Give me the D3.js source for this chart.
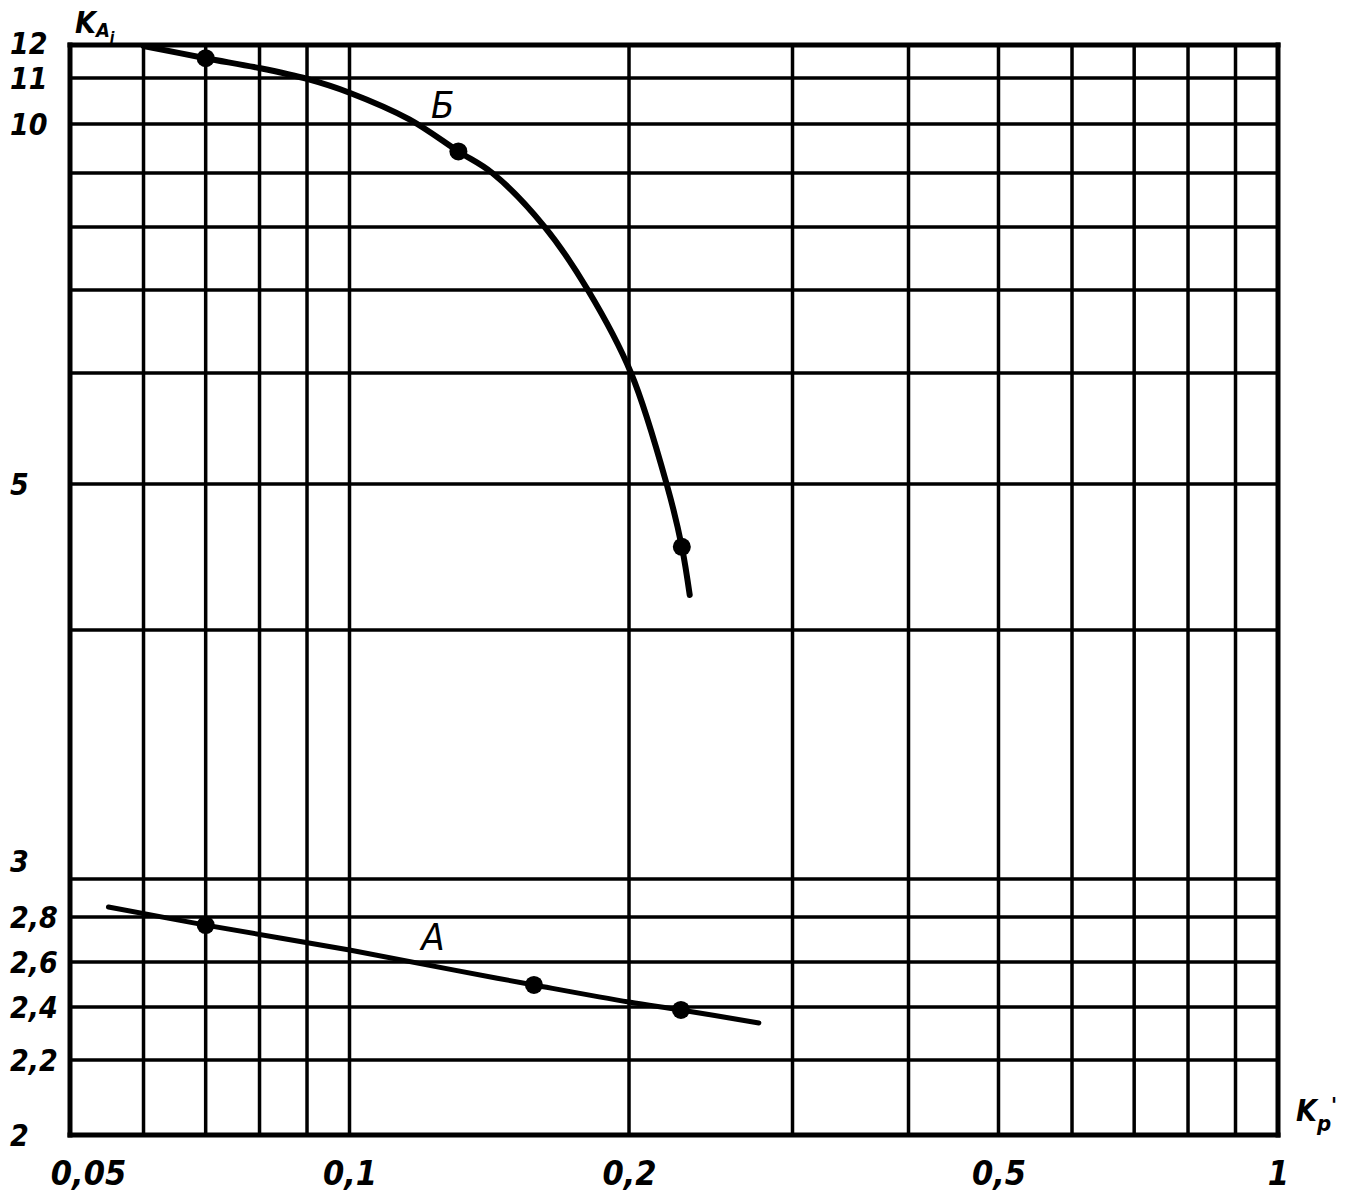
<!DOCTYPE html>
<html><head><meta charset="utf-8">
<script src="https://cdn.jsdelivr.net/npm/d3@7"></script>
<style>
body{margin:0;background:#fff;}
svg text{font-family:"DejaVu Sans Condensed","Liberation Sans Narrow","DejaVu Sans",sans-serif;font-style:italic;fill:#000;}
</style></head><body>
<svg id="c" width="1353" height="1199"></svg>
<script>
// ---- data ----
const xGrid = [0.05,0.06,0.07,0.08,0.09,0.1,0.2,0.3,0.4,0.5,0.6,0.7,0.8,0.9,1];
const xTickValues = [0.05,0.1,0.2,0.5,1];
const xTickLabels = ["0,05","0,1","0,2","0,5","1"];
const yGrid = [2,2.2,2.4,2.6,2.8,3,4,5,6,7,8,9,10,11,12];
const yTickValues = [2,2.2,2.4,2.6,2.8,3,5,10,11,12];
const yTickLabels = ["2","2,2","2,4","2,6","2,8","3","5","10","11","12"];
// non-uniform (nomographic) y axis: share of the axis height at each grid value
const yAxisShare = [0,0.0688,0.1174,0.1587,0.2,0.2349,0.4633,0.5972,0.6991,0.7752,0.833,0.8826,0.9275,0.9697,1];

const curveB = [[0.06,11.97],[0.07,11.6],[0.08,11.3],[0.09,10.98],[0.1,10.68],[0.116,10.1],
  [0.131,9.44],[0.1425,9.0],[0.1623,8.0],[0.1806,7.0],
  [0.201,6.0],[0.22,4.98],[0.228,4.57],[0.2325,4.24]];
const pointsB = [[0.07,11.6],[0.131,9.44],[0.228,4.57]];
const curveA = [[0.055,2.853],[0.07,2.764],[0.1,2.653],[0.1297,2.564],[0.158,2.498],
  [0.2,2.422],[0.2275,2.389],[0.276,2.34]];
const pointsA = [[0.07,2.764],[0.158,2.498],[0.2275,2.389]];
const seriesNames = ["Б","А"];
const seriesLabelAt = [[0.126,10.42],[0.123,2.71]];

// ---- layout ----
const W = 1353, H = 1199;
const m = {left:70, top:45, right:75, bottom:64};
const iw = W - m.left - m.right, ih = H - m.top - m.bottom;
const svg = d3.select("#c");

const x = d3.scaleLog().domain([0.05,1]).range([m.left, m.left+iw]);
const y = d3.scaleLinear().domain(yGrid).range(yAxisShare.map(s => m.top + ih*(1-s)));

// grid
const g = svg.append("g").attr("stroke","#000").attr("stroke-linecap","square");
g.selectAll("line.v").data(xGrid).join("line").attr("class","v")
  .attr("x1",d=>x(d)).attr("x2",d=>x(d)).attr("y1",m.top).attr("y2",m.top+ih)
  .attr("stroke-width",(d,i)=> (i===0||i===xGrid.length-1)?5:3.5);
g.selectAll("line.h").data(yGrid).join("line").attr("class","h")
  .attr("y1",d=>y(d)).attr("y2",d=>y(d)).attr("x1",m.left).attr("x2",m.left+iw)
  .attr("stroke-width",(d,i)=> (i===0||i===yGrid.length-1)?5:3.5);

// axes labels via d3 axes
const xAxis = d3.axisBottom(x).tickValues(xTickValues).tickSize(0)
  .tickFormat((d,i)=>xTickLabels[i]);
const gx = svg.append("g").attr("transform",`translate(0,${m.top+ih})`).call(xAxis);
gx.select(".domain").remove();
gx.selectAll("text").attr("font-size",34).attr("font-weight","bold").attr("font-family",null)
  .attr("dy",null).attr("y",50).attr("dx",(d,i)=> i===0?18:0);

const yAxis = d3.axisLeft(y).tickValues(yTickValues).tickSize(0)
  .tickFormat((d,i)=>yTickLabels[i]);
const gy = svg.append("g").call(yAxis);
gy.select(".domain").remove();
gy.selectAll("text").attr("font-size",30).attr("font-weight","bold").attr("font-family",null)
  .attr("text-anchor","start").attr("x",10)
  .attr("dy",d=> d===3 ? "-0.25em" : d===12 ? "0.28em" : "0.36em");

// curves
const line = d3.line().x(d=>x(d[0])).y(d=>y(d[1])).curve(d3.curveCatmullRom.alpha(0.5));
svg.append("path").datum(curveB).attr("d",line).attr("fill","none").attr("stroke","#000")
  .attr("stroke-width",6).attr("stroke-linecap","round");
svg.append("path").datum(curveA).attr("d",line).attr("fill","none").attr("stroke","#000")
  .attr("stroke-width",5).attr("stroke-linecap","round");
svg.selectAll("circle.p").data(pointsB.concat(pointsA)).join("circle").attr("class","p")
  .attr("cx",d=>x(d[0])).attr("cy",d=>y(d[1])).attr("r",9).attr("fill","#000");

// series labels
svg.selectAll("text.s").data(seriesNames).join("text").attr("class","s")
  .attr("x",(d,i)=>x(seriesLabelAt[i][0])).attr("y",(d,i)=>y(seriesLabelAt[i][1]))
  .attr("text-anchor","middle").attr("dominant-baseline","central")
  .attr("font-size",38).text(d=>d);

// axis titles
const ty = svg.append("text").attr("x",75).attr("y",33).attr("font-size",30).attr("font-weight","bold");
ty.append("tspan").text("K");
ty.append("tspan").attr("font-size",20).attr("dy",4).text("A");
ty.append("tspan").attr("font-size",15).attr("dy",6).text("i");

const tx = svg.append("text").attr("x",1296).attr("y",1121).attr("font-size",30).attr("font-weight","bold");
tx.append("tspan").text("K");
tx.append("tspan").attr("font-size",22).attr("dy",10).text("p");
tx.append("tspan").attr("font-size",22).attr("dy",-18).text("'");
</script>
</body></html>
